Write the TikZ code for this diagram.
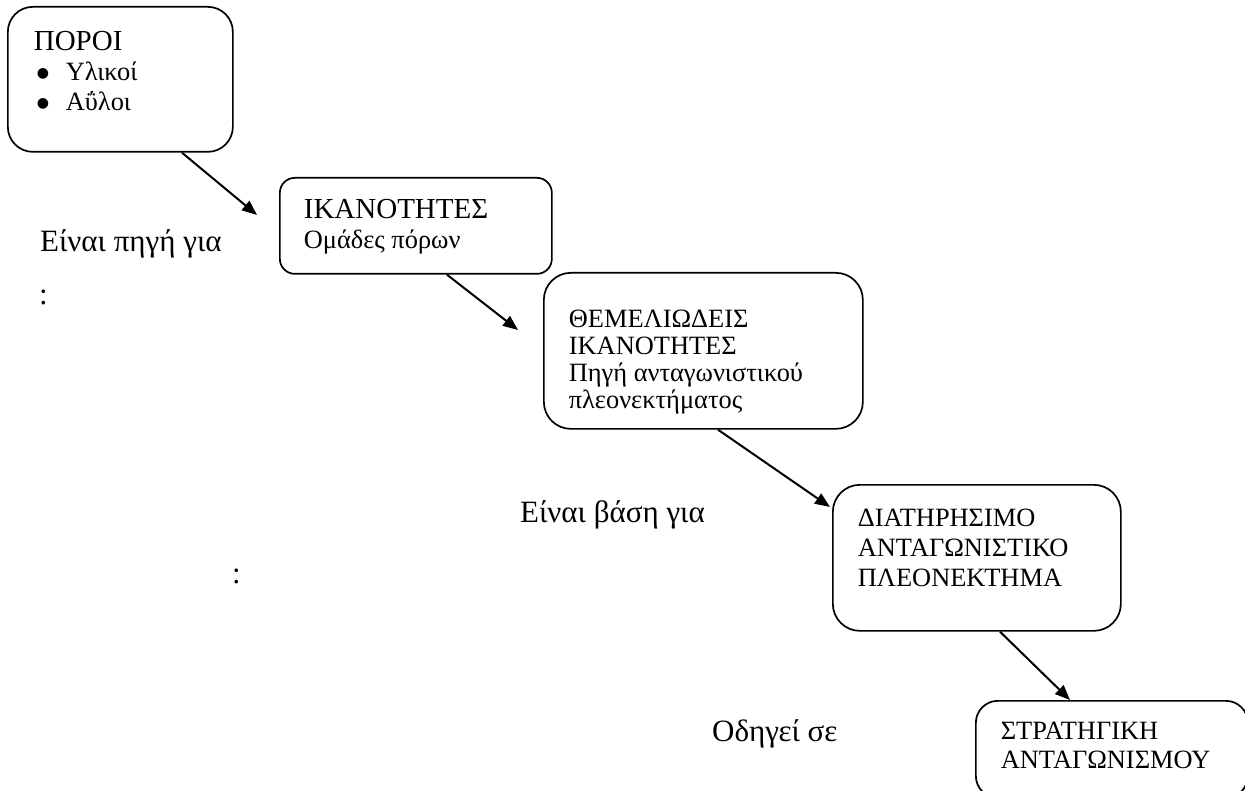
\documentclass[tikz,border=0pt]{standalone}
\usepackage{fontspec}
\setmainfont{Liberation Serif}
\newfontfamily\symfont{DejaVu Sans}
\usetikzlibrary{arrows.meta,calc}
% box body: width, height, left pad, first baseline, content
\newcommand{\boxbody}[5]{\parbox[c][#2pt][t]{#1pt}{\setlength{\leftskip}{#3pt}\rule{0pt}{#4pt}#5\par}}
\newcommand{\bitem}[1]{\hspace*{3pt}\makebox[29pt][l]{\raisebox{3pt}{\fontsize{14}{14}\symfont ●}}#1}
\newcommand{\headfont}{\fontsize{29}{32}\selectfont}
\newcommand{\bodyfont}{\fontsize{26.4}{30}\selectfont}
\begin{document}
\begin{tikzpicture}[x=1pt,y=-1pt,
  box/.style={draw, line width=1.7pt, rounded corners=#1, inner sep=0pt, anchor=north west},
  box/.default=25pt,
  conn/.style={line width=2pt, -{Triangle[length=15pt,width=12pt]}},
  lbl/.style={font=\fontsize{31}{36}\selectfont, inner sep=0pt}]
\useasboundingbox (0,0) rectangle (1245,791);

% boxes
\node[box=25pt] (poroi) at (7,6) {\boxbody{225}{145}{26}{44}{%
  \headfont ΠΟΡΟΙ\\
  \bodyfont\bitem{Υλικοί}\\\bitem{Αΰλοι}}};
\node[box=15pt] (ikan) at (279,177) {\boxbody{272}{96}{24}{41}{%
  \headfont ΙΚΑΝΟΤΗΤΕΣ\\
  \bodyfont Ομάδες πόρων}};
\node[box=27pt] (them) at (543,272) {\boxbody{319}{156}{25}{55}{%
  \fontsize{26.4}{27}\selectfont ΘΕΜΕΛΙΩΔΕΙΣ\\ΙΚΑΝΟΤΗΤΕΣ\\Πηγή ανταγωνιστικού\\πλεονεκτήματος}};
\node[box=27pt] (diat) at (832,484) {\boxbody{288}{146}{25}{42}{%
  \fontsize{26.4}{30}\selectfont ΔΙΑΤΗΡΗΣΙΜΟ\\ΑΝΤΑΓΩΝΙΣΤΙΚΟ\\ΠΛΕΟΝΕΚΤΗΜΑ}};
\node[box=22pt] (strat) at (975,700) {\boxbody{272}{97}{25}{39}{%
  \fontsize{26.4}{29}\selectfont ΣΤΡΑΤΗΓΙΚΗ\\ΑΝΤΑΓΩΝΙΣΜΟΥ}};

% labels
\node[lbl, anchor=base west] (l1) at (40,252) {Είναι πηγή για};
\node[lbl, anchor=base west] (c1) at (39,305) {:};
\node[lbl, anchor=base west] (l2) at (520,522) {Είναι βάση για};
\node[lbl, anchor=base west] (c2) at (232,583) {:};
\node[lbl, anchor=base west] (l3) at (712,741) {Οδηγεί σε};

% connectors
\draw[conn] ($(poroi.south west)+(175,0)$) -- ($(ikan.north west)+(-22,38)$);
\draw[conn] ($(ikan.south west)+(168,0)$) -- ($(them.north west)+(-25,58)$);
\draw[conn] ($(them.south west)+(175,0)$) -- ($(diat.north west)+(-2,23)$);
\draw[conn] ($(diat.south west)+(168,0)$) -- ($(strat.north west)+(95,0)$);
\end{tikzpicture}
\end{document}
